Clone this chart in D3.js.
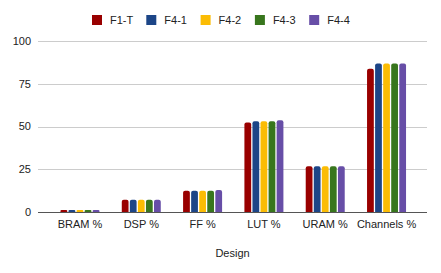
<!DOCTYPE html>
<html lang="en">
<head>
    <meta charset="UTF-8">
    <title>Design resource usage</title>
    <style>
        body { margin: 0; background: #fff; }
        svg { display: block; font-family: Arial, "Liberation Sans", sans-serif; }
    </style>
</head>
<body>
    <div id="chart"></div>
    <script src="https://cdn.jsdelivr.net/npm/d3@7"></script>
    <script>
        // data
        const categories = ["BRAM %", "DSP %", "FF %", "LUT %", "URAM %", "Channels %"];
        const seriesNames = ["F1-T", "F4-1", "F4-2", "F4-3", "F4-4"];
        const f1t = [1.2, 7.2, 12.4, 52.4, 26.7, 83.8];
        const f41 = [1.2, 7.2, 12.4, 53.1, 26.7, 86.9];
        const f42 = [1.2, 7.2, 12.4, 53.1, 26.7, 86.9];
        const f43 = [1.2, 7.2, 12.4, 53.1, 26.7, 86.9];
        const f44 = [1.2, 7.2, 12.8, 53.7, 26.7, 86.9];
        const yTicks = [0, 25, 50, 75, 100];
        const colors = ["#990000", "#1c4587", "#fbbc04", "#38761d", "#674ea7"];

        const seriesValues = [f1t, f41, f42, f43, f44];

        const width = 441, height = 273;
        const plotLeft = 38, plotRight = 427;
        const plotTop = 41, plotBottom = 212;

        const svg = d3.select("#chart").append("svg")
            .attr("width", width)
            .attr("height", height);

        const x = d3.scaleBand()
            .domain(categories)
            .range([49.3, 417.2]);

        const xInner = d3.scaleBand()
            .domain(seriesNames)
            .range([x.bandwidth() / 2 - 19.5, x.bandwidth() / 2 + 19.5])
            .paddingInner(0.16);

        const y = d3.scaleLinear()
            .domain([0, 100])
            .range([plotBottom, plotTop]);

        // gridlines + y labels
        const grid = svg.append("g");
        grid.selectAll("line")
            .data(yTicks.filter(d => d !== 0))
            .join("line")
            .attr("x1", plotLeft)
            .attr("x2", plotRight)
            .attr("y1", d => Math.round(y(d)) + 0.5)
            .attr("y2", d => Math.round(y(d)) + 0.5)
            .attr("stroke", "#cccccc");

        grid.selectAll("text")
            .data(yTicks)
            .join("text")
            .attr("x", 31)
            .attr("y", d => y(d))
            .attr("dy", "0.35em")
            .attr("text-anchor", "end")
            .attr("font-size", 11)
            .attr("fill", "#222")
            .text(d => d);

        // bars
        const rows = categories.map((c, i) => ({
            cat: c,
            vals: seriesNames.map((s, j) => ({ s: s, v: seriesValues[j][i], color: colors[j] }))
        }));

        svg.append("g")
            .selectAll("g")
            .data(rows)
            .join("g")
            .attr("transform", d => `translate(${x(d.cat)},0)`)
            .selectAll("path")
            .data(d => d.vals)
            .join("path")
            .attr("fill", d => d.color)
            .attr("d", d => {
                const x0 = xInner(d.s), w = xInner.bandwidth();
                const top = y(d.v), bot = y(0);
                const r = Math.min(2, (bot - top) / 2);
                return `M${x0},${bot}V${top + r}Q${x0},${top} ${x0 + r},${top}H${x0 + w - r}Q${x0 + w},${top} ${x0 + w},${top + r}V${bot}Z`;
            });

        // baseline
        svg.append("line")
            .attr("x1", plotLeft)
            .attr("x2", plotRight)
            .attr("y1", plotBottom + 0.5)
            .attr("y2", plotBottom + 0.5)
            .attr("stroke", "#555");

        // x axis labels
        svg.append("g")
            .attr("transform", `translate(0,${plotBottom})`)
            .call(d3.axisBottom(x).tickSize(0).tickPadding(8))
            .call(g => g.select(".domain").remove())
            .call(g => g.selectAll("text")
                .attr("font-size", 11)
                .attr("font-family", "Arial, 'Liberation Sans', sans-serif")
                .attr("fill", "#222"));

        // axis title
        svg.append("text")
            .attr("x", (plotLeft + plotRight) / 2)
            .attr("y", 253)
            .attr("dy", "0.35em")
            .attr("text-anchor", "middle")
            .attr("font-size", 11)
            .attr("fill", "#222")
            .text("Design");

        // legend
        const legend = svg.append("g")
            .selectAll("g")
            .data(seriesNames)
            .join("g")
            .attr("transform", (d, i) => `translate(${92 + i * 54.3},15)`);

        legend.append("rect")
            .attr("width", 10)
            .attr("height", 10)
            .attr("fill", (d, i) => colors[i]);

        legend.append("text")
            .attr("x", 18)
            .attr("y", 5)
            .attr("dy", "0.35em")
            .attr("font-size", 11)
            .attr("fill", "#222")
            .text(d => d);
    </script>
</body>
</html>
